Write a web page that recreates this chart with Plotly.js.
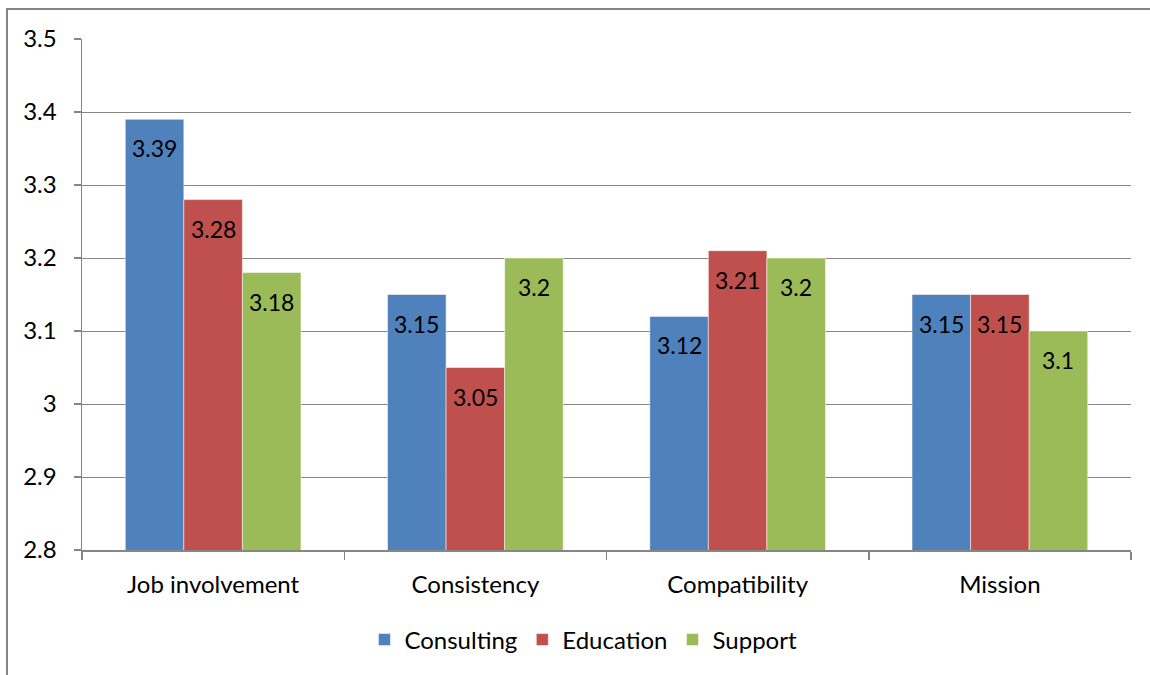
<!DOCTYPE html>
<html>
<head>
<meta charset="utf-8">
<script src="https://cdn.plot.ly/plotly-3.0.1.min.js"></script>
<style>html,body{margin:0;padding:0;background:#fff;}#chart{width:1150px;height:675px;}</style>
</head>
<body>
<div id="chart"></div>
<script>
const categories = ["Job involvement", "Consistency", "Compatibility", "Mission"];
const seriesNames = ["Consulting", "Education", "Support"];
const consulting = [3.39, 3.15, 3.12, 3.15];
const education = [3.28, 3.05, 3.21, 3.15];
const support = [3.18, 3.2, 3.2, 3.1];
const yTicks = [2.8, 2.9, 3.0, 3.1, 3.2, 3.3, 3.4, 3.5];

const colors = ["#4F81BD", "#C0504D", "#9BBB59"];
const allSeries = [consulting, education, support];
const FONT = "Lato, 'Open Sans', sans-serif";
const bargap = 0.33;

const traces = allSeries.map((vals, j) => ({
  type: "bar",
  name: seriesNames[j],
  x: categories,
  y: vals,
  marker: {color: colors[j], line: {color: "rgba(255,255,255,0.5)", width: 1}},
  hoverinfo: "x+y"
}));

const barW = (1 - bargap) / 3;
const annotations = [];
allSeries.forEach((vals, j) => {
  vals.forEach((v, i) => {
    annotations.push({
      x: i + (j - 1) * barW, y: v, xref: "x", yref: "y",
      text: String(v), showarrow: false, yanchor: "middle", yshift: -29,
      font: {family: FONT, size: 23, color: "#000"}
    });
  });
});

const layout = {
  width: 1150, height: 675,
  margin: {l: 82, r: 19, t: 39, b: 125, autoexpand: false},
  paper_bgcolor: "#fff", plot_bgcolor: "#fff",
  barmode: "group", bargap: bargap, bargroupgap: 0,
  font: {family: FONT, size: 24, color: "#000"},
  xaxis: {
    type: "category", categoryorder: "array", categoryarray: categories,
    showgrid: false, zeroline: false,
    showline: true, linecolor: "#868686", linewidth: 1.5,
    ticks: "outside", tickson: "boundaries", ticklen: 8, tickcolor: "#868686", tickwidth: 1.5,
    ticklabelstandoff: 13,
    tickfont: {family: FONT, size: 24, color: "#000"}
  },
  yaxis: {
    range: [2.8, 3.5], tickmode: "array", tickvals: yTicks,
    ticktext: yTicks.map(v => String(v)),
    showgrid: true, gridcolor: "#868686", gridwidth: 1,
    zeroline: false, showline: true, linecolor: "#868686", linewidth: 1.5,
    ticks: "outside", ticklen: 7, tickcolor: "#868686", tickwidth: 1.5,
    ticklabelstandoff: 12,
    tickfont: {family: FONT, size: 24, color: "#000"}
  },
  legend: {
    orientation: "h", x: 0.478, xanchor: "center", y: (550 - 640) / 511, yanchor: "middle",
    font: {family: FONT, size: 24, color: "#000"}, itemwidth: 30, traceorder: "normal"
  },
  annotations: annotations,
  shapes: [{
    type: "rect", xref: "paper", yref: "paper",
    x0: -75 / 1049, x1: 1.2, y0: -0.5, y1: (550 - 9) / 511,
    line: {color: "#868686", width: 2}, fillcolor: "rgba(0,0,0,0)", layer: "below"
  }],
  showlegend: true
};

Plotly.newPlot("chart", traces, layout, {displayModeBar: false, staticPlot: true});
</script>
</body>
</html>
